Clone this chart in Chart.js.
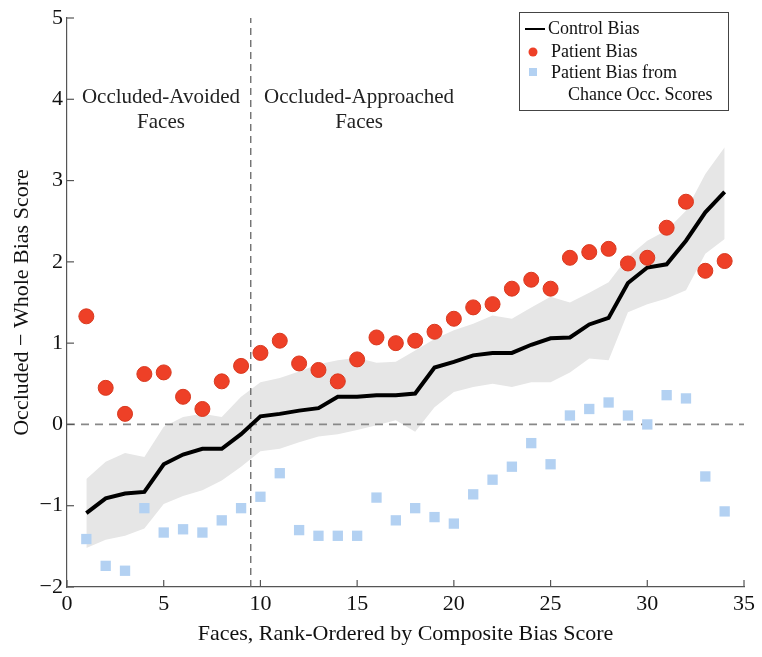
<!DOCTYPE html>
<html lang="en">
<head>
    <meta charset="UTF-8">
    <title>Bias scores</title>
    <script src="https://cdn.jsdelivr.net/npm/chart.js"></script>
    <style type="text/css">
        body{
            margin: 0;
            background: #fff;
        }
        .grafica{
            width: 762px;
            height: 657px;
        }
    </style>
</head>
<body>
    <div class="grafica">
        <canvas id="myChart" width="762" height="657"></canvas>
    </div>
    <script>
        // faces 1..34, rank ordered
        const faces = [1,2,3,4,5,6,7,8,9,10,11,12,13,14,15,16,17,18,19,20,21,22,23,24,25,26,27,28,29,30,31,32,33,34];
        const controlBias = [-1.09,-0.91,-0.85,-0.83,-0.49,-0.37,-0.30,-0.30,-0.12,0.10,0.13,0.17,0.20,0.34,0.34,0.36,0.36,0.38,0.70,0.77,0.85,0.88,0.88,0.98,1.06,1.07,1.23,1.31,1.74,1.93,1.97,2.26,2.61,2.86];
        const controlUpper = [-0.67,-0.46,-0.35,-0.40,-0.03,0.09,0.13,0.09,0.34,0.52,0.57,0.65,0.74,0.79,0.82,0.76,0.77,0.91,1.05,1.16,1.24,1.34,1.30,1.44,1.57,1.50,1.62,1.75,2.06,2.26,2.39,2.63,3.08,3.41];
        const controlLower = [-1.52,-1.42,-1.37,-1.28,-0.98,-0.88,-0.81,-0.69,-0.52,-0.33,-0.30,-0.22,-0.15,-0.12,-0.07,-0.01,0.05,-0.09,0.21,0.40,0.46,0.50,0.46,0.52,0.52,0.64,0.81,0.79,1.38,1.48,1.55,1.65,2.10,2.28];
        const patientBias = [1.33,0.45,0.13,0.62,0.64,0.34,0.19,0.53,0.72,0.88,1.03,0.75,0.67,0.53,0.80,1.07,1.00,1.03,1.14,1.30,1.44,1.48,1.67,1.78,1.67,2.05,2.12,2.16,1.98,2.05,2.42,2.74,1.89,2.01];
        const chanceBias = [-1.41,-1.74,-1.80,-1.03,-1.33,-1.29,-1.33,-1.18,-1.03,-0.89,-0.60,-1.30,-1.37,-1.37,-1.37,-0.90,-1.18,-1.03,-1.14,-1.22,-0.86,-0.68,-0.52,-0.23,-0.49,0.11,0.19,0.27,0.11,0.00,0.36,0.32,-0.64,-1.07];
        const xTicks = [0,5,10,15,20,25,30,35];
        const yTicks = [-2,-1,0,1,2,3,4,5];
        const splitRank = 9.5;

        const serif = 'Liberation Serif';

        function pts(ys){
            return faces.map(function(f, i){ return {x: f, y: ys[i]}; });
        }

        // inward ticks, text labels and the legend box
        const extras = {
            id: 'extras',
            afterDraw: function(chart){
                const ctx = chart.ctx;
                const xs = chart.scales.x, ys = chart.scales.y;
                const area = chart.chartArea;
                ctx.save();
                ctx.strokeStyle = '#555';
                ctx.lineWidth = 1.2;
                xTicks.forEach(function(t){
                    const px = xs.getPixelForValue(t);
                    ctx.beginPath();
                    ctx.moveTo(px, area.bottom);
                    ctx.lineTo(px, area.bottom - 7);
                    ctx.stroke();
                });
                yTicks.forEach(function(t){
                    const py = ys.getPixelForValue(t);
                    ctx.beginPath();
                    ctx.moveTo(area.left, py);
                    ctx.lineTo(area.left + 7, py);
                    ctx.stroke();
                });

                // region labels
                ctx.fillStyle = '#222';
                ctx.font = '21px "' + serif + '"';
                ctx.textAlign = 'center';
                ctx.textBaseline = 'middle';
                ctx.fillText('Occluded-Avoided', xs.getPixelForValue(4.86), ys.getPixelForValue(4.02));
                ctx.fillText('Faces', xs.getPixelForValue(4.86), ys.getPixelForValue(3.71));
                ctx.fillText('Occluded-Approached', xs.getPixelForValue(15.1), ys.getPixelForValue(4.02));
                ctx.fillText('Faces', xs.getPixelForValue(15.1), ys.getPixelForValue(3.71));

                // legend
                const lx = 519, ly = 12, lw = 209, lh = 98;
                ctx.fillStyle = '#fff';
                ctx.fillRect(lx, ly, lw, lh);
                ctx.strokeStyle = '#444';
                ctx.lineWidth = 1;
                ctx.strokeRect(lx + 0.5, ly + 0.5, lw, lh);
                ctx.strokeStyle = '#000';
                ctx.lineWidth = 2;
                ctx.beginPath();
                ctx.moveTo(525, 29);
                ctx.lineTo(545, 29);
                ctx.stroke();
                ctx.fillStyle = '#ee4027';
                ctx.beginPath();
                ctx.arc(533, 52, 4.5, 0, Math.PI * 2);
                ctx.fill();
                ctx.fillStyle = '#b3d1f2';
                ctx.fillRect(529, 68, 8, 8);
                ctx.fillStyle = '#111';
                ctx.font = '18px "' + serif + '"';
                ctx.textAlign = 'left';
                ctx.fillText('Control Bias', 548, 29);
                ctx.fillText('Patient Bias', 551, 52);
                ctx.fillText('Patient Bias from', 551, 73);
                ctx.fillText('Chance Occ. Scores', 568, 95);
                ctx.restore();
            }
        };

        const data = {
            datasets: [
            {
                label: 'Patient Bias',
                data: pts(patientBias),
                showLine: false,
                pointRadius: 7.5,
                pointBackgroundColor: '#ee4027',
                pointBorderColor: '#d8391f',
                pointBorderWidth: 1
            },
            {
                label: 'Patient Bias from Chance Occ. Scores',
                data: pts(chanceBias),
                showLine: false,
                pointStyle: 'rect',
                pointRadius: 7.3,
                pointBackgroundColor: '#b3d1f2',
                pointBorderWidth: 0
            },
            {
                label: 'Control Bias',
                data: pts(controlBias),
                showLine: true,
                borderColor: '#000',
                borderWidth: 4,
                pointRadius: 0,
                tension: 0
            },
            {
                label: 'split',
                data: [{x: splitRank, y: -2}, {x: splitRank, y: 5}],
                showLine: true,
                borderColor: '#666',
                borderWidth: 1.3,
                borderDash: [7, 5],
                pointRadius: 0
            },
            {
                label: 'zero',
                data: [{x: 0, y: 0}, {x: 35, y: 0}],
                showLine: true,
                borderColor: '#888',
                borderWidth: 1.8,
                borderDash: [8, 6],
                pointRadius: 0
            },
            {
                label: 'upper',
                data: pts(controlUpper),
                showLine: true,
                borderWidth: 0,
                borderColor: 'rgba(0,0,0,0)',
                pointRadius: 0,
                fill: '+1',
                backgroundColor: '#e6e6e6'
            },
            {
                label: 'lower',
                data: pts(controlLower),
                showLine: true,
                borderWidth: 0,
                borderColor: 'rgba(0,0,0,0)',
                pointRadius: 0,
                fill: false
            }
        ]
        };

        const config = {
            type: 'scatter',
            data: data,
            options: {
                responsive: false,
                animation: false,
                layout: {
                    padding: {left: 0, right: 18, top: 18, bottom: 0}
                },
                plugins: {
                    legend: {display: false},
                    tooltip: {enabled: false}
                },
                scales: {
                    x: {
                        type: 'linear',
                        min: 0,
                        max: 35,
                        afterBuildTicks: function(scale){
                            scale.ticks = xTicks.map(function(v){ return {value: v}; });
                        },
                        ticks: {
                            color: '#111',
                            padding: 4,
                            font: {family: serif, size: 22}
                        },
                        grid: {display: false, drawTicks: false},
                        border: {display: true, color: '#555', width: 1.2},
                        title: {
                            display: true,
                            text: 'Faces, Rank-Ordered by Composite Bias Score',
                            color: '#111',
                            font: {family: serif, size: 22},
                            padding: {top: 0, bottom: 10}
                        },
                        afterFit: function(scale){ scale.height = 70; }
                    },
                    y: {
                        type: 'linear',
                        min: -2,
                        max: 5,
                        afterBuildTicks: function(scale){
                            scale.ticks = yTicks.map(function(v){ return {value: v}; });
                        },
                        ticks: {
                            color: '#111',
                            padding: 4,
                            font: {family: serif, size: 22},
                            callback: function(v){ return String(v).replace('-', '\u2212'); }
                        },
                        grid: {display: false, drawTicks: false},
                        border: {display: true, color: '#555', width: 1.2},
                        title: {
                            display: true,
                            text: 'Occluded \u2212 Whole Bias Score',
                            color: '#111',
                            font: {family: serif, size: 22},
                            padding: {top: 9, bottom: 0}
                        },
                        afterFit: function(scale){ scale.width = 67; }
                    }
                }
            },
            plugins: [extras]
        };
        const myChart = new Chart(
            document.getElementById('myChart'),
            config
        );
    </script>
</body>
</html>
